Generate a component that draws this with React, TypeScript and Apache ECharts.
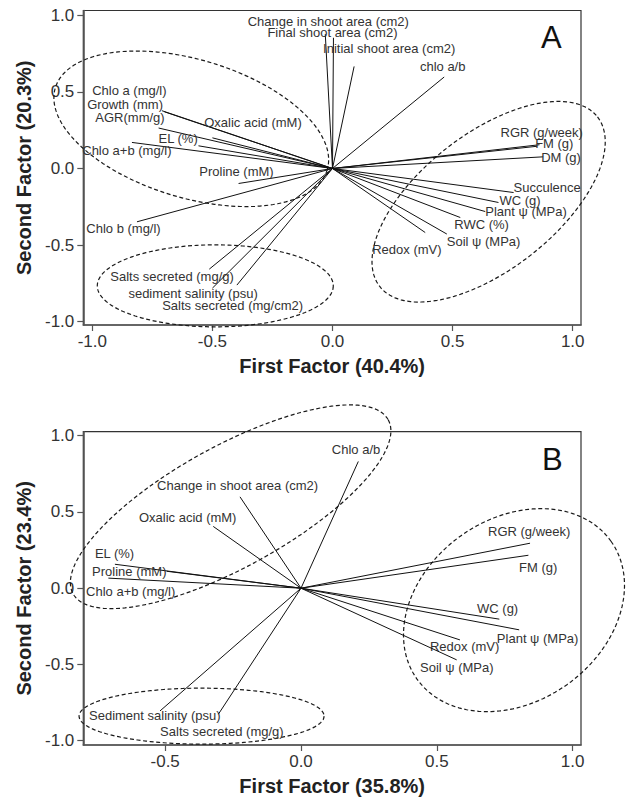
import React, { useEffect, useRef } from "react";
import * as echarts from "echarts";

const FONT = "'Liberation Sans', Arial, Helvetica, sans-serif";

// ---------- Panel A data ----------
const namesA = [
  "Change in shoot area (cm2)",
  "Final shoot area (cm2)",
  "Initial shoot area (cm2)",
  "chlo a/b",
  "RGR (g/week)",
  "FM (g)",
  "DM (g)",
  "Succulence",
  "WC (g)",
  "Plant \u03c8 (MPa)",
  "RWC (%)",
  "Soil \u03c8 (MPa)",
  "Redox (mV)",
  "Chlo b (mg/l)",
  "Salts secreted (mg/g)",
  "sediment salinity (psu)",
  "Salts secreted (mg/cm2)",
  "Chlo a (mg/l)",
  "Growth (mm)",
  "AGR(mm/g)",
  "EL (%)",
  "Chlo a+b (mg/l)",
  "Proline (mM)",
  "Oxalic acid (mM)",
];
const factor1A = [
  -0.03, 0.004, 0.09, 0.465, 0.862, 0.852, 0.877, 0.754, 0.691, 0.636, 0.532, 0.476,
  0.386, -0.814, -0.513, -0.5, -0.398, -0.7, -0.71, -0.724, -0.558, -0.835, -0.391, -0.5,
];
const factor2A = [
  0.877, 0.853, 0.666, 0.597, 0.155, 0.145, 0.076, -0.157, -0.222, -0.281, -0.32, -0.428,
  -0.418, -0.348, -0.657, -0.781, -0.761, 0.37, 0.377, 0.264, 0.148, 0.17, -0.098, 0.2,
];

// ---------- Panel B data ----------
const namesB = [
  "Change in shoot area (cm2)",
  "Oxalic acid (mM)",
  "EL (%)",
  "Proline (mM)",
  "Chlo a+b (mg/l)",
  "Chlo a/b",
  "RGR (g/week)",
  "FM (g)",
  "WC (g)",
  "Plant \u03c8 (MPa)",
  "Redox (mV)",
  "Soil \u03c8 (MPa)",
  "Sediment salinity (psu)",
  "Salts secreted (mg/g)",
];
const factor1B = [
  -0.2245, -0.323, -0.685, -0.709, -0.494, 0.211, 0.843, 0.837, 0.73, 0.803, 0.585, 0.573,
  -0.519, -0.304,
];
const factor2B = [
  0.599, 0.405, 0.157, 0.066, 0.111, 0.831, 0.295, 0.216, -0.203, -0.273, -0.339, -0.47,
  -0.805, -0.826,
];

const tickValuesA = [-1, -0.5, 0, 0.5, 1];
const tickValuesBX = [-0.5, 0, 0.5, 1];
const tickValuesY = [-1, -0.5, 0, 0.5, 1];

// ---------- layout (label offsets in px, ellipse shapes) ----------
const labelLayoutA: [number, number, string][] = [
  [3, -13, "center"],
  [-1, -5, "center"],
  [-31, -18, "left"],
  [-1.5, -11, "center"],
  [-39, -12, "left"],
  [-2, -2.5, "left"],
  [-2, 0.7, "left"],
  [0, -5, "left"],
  [1, -2, "left"],
  [0, 0, "left"],
  [-6, 6.6, "left"],
  [0, 7.4, "left"],
  [-53, 17.3, "left"],
  [-50.7, 6.7, "left"],
  [-99, 7.4, "left"],
  [-84, 5.4, "left"],
  [-74.7, 20.7, "left"],
  [-72.2, -21, "left"],
  [-74.8, -5.9, "left"],
  [-63.3, -10.6, "left"],
  [-40, -7, "left"],
  [-49.7, 8.3, "left"],
  [-39.3, -12, "left"],
  [-8.2, -15.4, "left"],
];
const labelLayoutB: [number, number, string][] = [
  [-83, -11.7, "left"],
  [-74.3, -9.3, "left"],
  [-20, -11, "left"],
  [-16.3, -7, "left"],
  [-80.7, 20.7, "left"],
  [-2.3, -12.3, "center"],
  [-42, -11.7, "left"],
  [-9.3, 12, "left"],
  [-22.3, -11, "left"],
  [-22.3, 8.3, "left"],
  [-30, 6.3, "left"],
  [-36.7, 7.3, "left"],
  [-71, 5, "left"],
  [-58.3, 17.7, "left"],
];

// ellipse centres in factor units; semi-axes (px) and rotation (deg) as shape
const ellipseCentersA = [
  [-0.588, 0.259],
  [-0.488, -0.766],
  [0.65, -0.217],
];
const ellipseShapesA = [
  [142, 69, 16.8],
  [118, 41, 0],
  [138, 68, -37.9],
];
const ellipseCentersB = [
  [-0.259, 0.534],
  [-0.366, -0.839],
  [0.784, -0.144],
];
const ellipseShapesB = [
  [180, 60.5, -28.9],
  [122.5, 28, 0],
  [119, 91.4, -35.4],
];

function ellipseSeries(gridIndex: number, centers: number[][], shapes: number[][]) {
  return {
    type: "custom",
    xAxisIndex: gridIndex,
    yAxisIndex: gridIndex,
    clip: false,
    silent: true,
    data: centers,
    renderItem: (params: any, api: any) => {
      const c = api.coord([api.value(0), api.value(1)]);
      const [a, b, ang] = shapes[params.dataIndex];
      const phi = (ang * Math.PI) / 180;
      const pts: number[][] = [];
      const N = 160;
      for (let i = 0; i < N; i++) {
        const t = (i / N) * Math.PI * 2;
        const ex = a * Math.cos(t);
        const ey = b * Math.sin(t);
        pts.push([
          c[0] + ex * Math.cos(phi) - ey * Math.sin(phi),
          c[1] + ex * Math.sin(phi) + ey * Math.cos(phi),
        ]);
      }
      return {
        type: "polygon",
        shape: { points: pts },
        style: { fill: "none", stroke: "#1a1a1a", lineWidth: 1.2, lineDash: [4, 2.6] },
      };
    },
  };
}

function vectorSeries(
  gridIndex: number,
  names: string[],
  xs: number[],
  ys: number[],
  layout: [number, number, string][]
) {
  return {
    type: "custom",
    xAxisIndex: gridIndex,
    yAxisIndex: gridIndex,
    clip: false,
    silent: true,
    data: xs.map((x, i) => [x, ys[i]]),
    renderItem: (params: any, api: any) => {
      const i = params.dataIndex;
      const o = api.coord([0, 0]);
      const p = api.coord([api.value(0), api.value(1)]);
      const [dx, dy, align] = layout[i];
      return {
        type: "group",
        children: [
          {
            type: "line",
            shape: { x1: o[0], y1: o[1], x2: p[0], y2: p[1] },
            style: { stroke: "#111", lineWidth: 1 },
          },
          {
            type: "text",
            x: p[0] + dx,
            y: p[1] + dy,
            style: {
              text: names[i],
              fill: "#333",
              fontSize: 13,
              fontFamily: FONT,
              align: align,
              verticalAlign: "middle",
            },
          },
        ],
      };
    },
  };
}

function makeXAxis(gridIndex: number, min: number, max: number, ticks: number[], name: string) {
  return {
    gridIndex,
    type: "value",
    min,
    max,
    splitLine: { show: false },
    axisLine: { show: true, onZero: false, lineStyle: { color: "#555", width: 1.6 } },
    axisTick: { show: true, inside: false, length: 6, customValues: ticks, lineStyle: { color: "#555", width: 1.2 } },
    axisLabel: {
      customValues: ticks,
      formatter: (v: number) => v.toFixed(1),
      fontSize: 17,
      color: "#333",
      margin: 8,
      fontFamily: FONT,
    },
    name,
    nameLocation: "middle",
    nameGap: 31,
    nameTextStyle: { fontWeight: "bold", fontSize: 20, color: "#222", fontFamily: FONT },
  };
}

function makeYAxis(gridIndex: number, min: number, max: number, ticks: number[], name: string) {
  return {
    gridIndex,
    type: "value",
    min,
    max,
    splitLine: { show: false },
    axisLine: { show: true, onZero: false, lineStyle: { color: "#555", width: 1.6 } },
    axisTick: { show: true, inside: false, length: 6, customValues: ticks, lineStyle: { color: "#555", width: 1.2 } },
    axisLabel: {
      customValues: ticks,
      formatter: (v: number) => v.toFixed(1),
      fontSize: 17,
      color: "#333",
      margin: 9,
      fontFamily: FONT,
    },
    name,
    nameLocation: "middle",
    nameGap: 48,
    nameTextStyle: { fontWeight: "bold", fontSize: 20, color: "#222", fontFamily: FONT },
  };
}

export default function App() {
  const ref = useRef<HTMLDivElement>(null);
  useEffect(() => {
    if (!ref.current) return;
    const chart = echarts.init(ref.current, undefined, { renderer: "svg" });
    const option: any = {
      animation: false,
      backgroundColor: "#fff",
      textStyle: { fontFamily: FONT },
      grid: [
        { left: 83.3, top: 10.5, width: 497.7, height: 314.5, show: true, borderColor: "#333", borderWidth: 1.2 },
        { left: 83.3, top: 431.7, width: 497.7, height: 313.3, show: true, borderColor: "#333", borderWidth: 1.2 },
      ],
      xAxis: [
        makeXAxis(0, -1.0375, 1.0346, tickValuesA, "First Factor (40.4%)"),
        makeXAxis(1, -0.8013, 1.0306, tickValuesBX, "First Factor (35.8%)"),
      ],
      yAxis: [
        makeYAxis(0, -1.0215, 1.031, tickValuesY, "Second Factor (20.3%)"),
        makeYAxis(1, -1.0282, 1.0262, tickValuesY, "Second Factor (23.4%)"),
      ],
      series: [
        ellipseSeries(0, ellipseCentersA, ellipseShapesA),
        vectorSeries(0, namesA, factor1A, factor2A, labelLayoutA),
        ellipseSeries(1, ellipseCentersB, ellipseShapesB),
        vectorSeries(1, namesB, factor1B, factor2B, labelLayoutB),
      ],
      graphic: [
        {
          type: "text",
          left: 541,
          top: 22,
          style: { text: "A", fontSize: 31, fill: "#111", fontFamily: FONT },
        },
        {
          type: "text",
          left: 542,
          top: 444,
          style: { text: "B", fontSize: 31, fill: "#111", fontFamily: FONT },
        },
      ],
    };
    chart.setOption(option);
    return () => chart.dispose();
  }, []);
  return (
    <div
      ref={ref}
      style={{ position: "absolute", left: 0, top: 0, width: 628, height: 804, background: "#fff" }}
    />
  );
}
